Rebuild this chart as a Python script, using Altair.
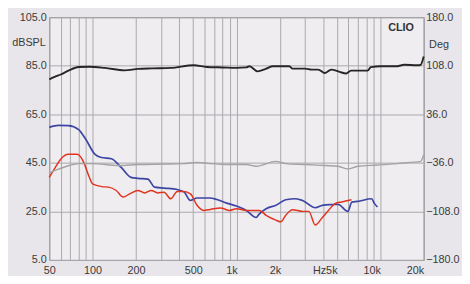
import altair as alt
import pandas as pd

# Frequency response (black), dBSPL
fr_f = [50, 55, 60, 68, 80, 95, 122, 167, 207, 260, 350, 505, 622, 800, 1000, 1170, 1230,
        1400, 1610, 1790, 2330, 2450, 3000, 3330, 3700, 4110, 4560, 5200, 5780, 6260, 8150,
        8600, 10080, 13100, 14600, 18000, 19000, 20000]
fr_db = [79.4, 80.5, 81.4, 83.0, 84.5, 84.6, 84.1, 83.1, 83.7, 83.9, 84.1, 85.2, 84.5, 84.3,
         84.1, 84.3, 84.8, 82.7, 83.8, 84.8, 84.8, 83.8, 83.8, 83.4, 83.4, 82.0, 83.4, 82.5,
         81.8, 83.0, 83.0, 84.4, 84.8, 84.8, 85.4, 85.2, 85.3, 88.8]

# Phase (grey), degrees
ph_f = [50, 58.5, 68.5, 80, 100, 151, 207, 316, 430, 532, 650, 855, 1170, 1370, 1880, 2200,
        3000, 4110, 5080, 5950, 6960, 9550, 13100, 16200, 19000, 20000]
ph_deg = [-50.8, -45, -40, -37.1, -37.1, -40, -38.5, -37.8, -37.1, -35.3, -37.1, -38.5, -38.5,
          -41, -33.8, -37.1, -38.5, -40, -41, -45, -41, -39.2, -37.1, -35.3, -34.2, -24.1]

# 2nd harmonic (blue), dBSPL
h2_f = [50, 58, 68, 80, 89, 104, 115, 135, 158, 185, 207, 242, 270, 316, 388, 434, 477, 532,
        653, 730, 855, 1000, 1170, 1370, 1438, 1607, 1880, 2200, 2580, 2880, 3530, 3950, 4620,
        5080, 5950, 6330, 6960, 8690, 9100, 9550]
h2_db = [59.6, 60.4, 60.3, 58.7, 55.0, 48.5, 47.2, 46.7, 43.1, 39.0, 38.6, 38.3, 35.0, 34.6,
         34.0, 32.9, 29.5, 30.5, 30.5, 29.9, 28.4, 27.2, 25.4, 22.5, 23.9, 26.1, 27.5, 29.8,
         30.2, 29.5, 26.5, 27.5, 27.8, 27.9, 25.0, 28.8, 29.1, 30.2, 28.2, 26.8]

# 3rd harmonic (red), dBSPL
h3_f = [50, 55, 60, 68, 78, 87, 94, 100, 116, 129, 146, 163, 181, 207, 230, 256, 283, 314, 349,
        388, 431, 479, 532, 590, 657, 772, 900, 1000, 1170, 1438, 1607, 1880, 2035, 2200, 2450,
        2880, 3180, 3530, 3940, 4360, 4840, 5380, 6300]
h3_db = [39.0, 43.0, 46.5, 48.5, 48.5, 45.1, 39.7, 36.3, 35.2, 35.0, 33.6, 30.9, 32.2, 33.6,
         32.6, 33.6, 32.6, 32.9, 30.2, 33.2, 33.2, 32.2, 27.5, 25.4, 25.8, 26.4, 25.4, 26.1,
         25.4, 25.4, 23.4, 21.4, 20.7, 23.4, 25.7, 25.0, 25.0, 19.4, 22.4, 25.4, 28.2, 28.9,
         29.8]

grid_f = [50, 60, 70, 80, 90, 100, 200, 300, 400, 500, 600, 700, 800, 900,
          1000, 2000, 3000, 4000, 5000, 6000, 7000, 8000, 9000, 10000, 20000]
label_f = [50, 100, 200, 500, 1000, 2000, 5000, 10000, 20000]
db_ticks = [5, 25, 45, 65, 85, 105]
deg_ticks = [-180, -108, -36, 36, 108, 180]

series_names = ["fr", "h2", "h3"]
series_colors = ["#262626", "#3d45a3", "#e0341f"]
series_widths = [1.9, 1.5, 1.5]

df_spl = pd.concat([
    pd.DataFrame({"f": fr_f, "v": fr_db, "s": "fr"}),
    pd.DataFrame({"f": h2_f, "v": h2_db, "s": "h2"}),
    pd.DataFrame({"f": h3_f, "v": h3_db, "s": "h3"}),
])
df_ph = pd.DataFrame({"f": ph_f, "deg": ph_deg})

label_list = ",".join(str(v) for v in label_f if v != 5000)
label_expr = (
    "datum.value == 5000 ? 'Hz5k' : "
    f"indexof([{label_list}], datum.value) < 0 ? '' : "
    "datum.value >= 1000 ? (datum.value / 1000) + 'k' : '' + datum.value"
)

FONT = "Liberation Sans"
LABEL_COLOR = "#3a3a3a"

xenc = alt.X(
    "f:Q",
    scale=alt.Scale(type="log", domain=[50, 20000], nice=False),
    axis=alt.Axis(
        values=grid_f, labelExpr=label_expr, grid=True, ticks=False, domain=False,
        labelOverlap=False, labelFlush=False, labelPadding=5, title=None,
        labelAlign={"condition": {"test": "datum.value >= 5000", "value": "right"}, "value": "center"},
        labelOffset={"condition": {"test": "datum.value == 1000 || datum.value == 2000", "value": -5}, "value": 0},
    ),
)

spl = alt.Chart(df_spl).mark_line(interpolate="monotone").encode(
    x=xenc,
    y=alt.Y(
        "v:Q",
        scale=alt.Scale(domain=[5, 105], nice=False, zero=False),
        axis=alt.Axis(
            values=db_ticks, format=".1f", grid=True, ticks=False, domain=False,
            labelPadding=3, title="dBSPL", titleAngle=0, titleX=-4, titleY=26,
            titleAlign="right", titleBaseline="middle", titleFontWeight="normal",
            titleFontSize=11, titleFont=FONT, titleColor=LABEL_COLOR,
        ),
    ),
    color=alt.Color("s:N", scale=alt.Scale(domain=series_names, range=series_colors), legend=None),
    strokeWidth=alt.StrokeWidth("s:N", scale=alt.Scale(domain=series_names, range=series_widths), legend=None),
    detail="s:N",
)

phase = alt.Chart(df_ph).mark_line(interpolate="monotone", color="#a3a3a3", strokeWidth=1.4).encode(
    x=alt.X("f:Q", scale=alt.Scale(type="log", domain=[50, 20000], nice=False)),
    y=alt.Y(
        "deg:Q",
        scale=alt.Scale(domain=[-180, 180], nice=False, zero=False),
        axis=alt.Axis(
            orient="right", values=deg_ticks, format=".1f", grid=False, ticks=False,
            domain=False, labelPadding=2, title="Deg", titleAngle=0, titleX=5, titleY=28,
            titleAlign="left", titleBaseline="middle", titleFontWeight="normal",
            titleFontSize=11, titleFont=FONT, titleColor=LABEL_COLOR,
        ),
    ),
)

clio = alt.Chart(pd.DataFrame({"t": ["CLIO"]})).mark_text(
    font=FONT, fontSize=11, fontWeight="bold", color="#333333", align="center", baseline="middle"
).encode(text="t:N", x=alt.value(358), y=alt.value(11))

chart = alt.layer(spl, phase, clio).resolve_scale(y="independent").properties(
    width=381, height=247,
    autosize=alt.AutoSizeParams(type="none"),
    padding={"left": 42, "top": 7, "right": 39, "bottom": 14},
    background="#e8e6ea",
).configure_view(
    fill="#efedf0", stroke="#7d7d80", strokeWidth=1,
).configure_axis(
    labelFont=FONT, labelFontSize=11, labelColor=LABEL_COLOR,
    gridColor="#a9a8ac", gridWidth=1, gridOpacity=1,
)

chart.save("out.html", embed_options={"renderer": "svg", "actions": False})
